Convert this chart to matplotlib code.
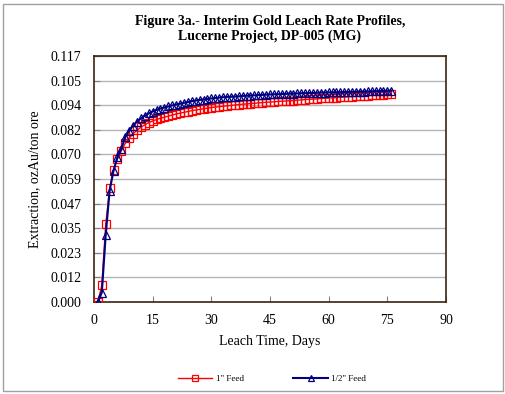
import numpy as np
import matplotlib
matplotlib.use("Agg")
import matplotlib.pyplot as plt
from matplotlib.patches import Rectangle

# Data
days = list(range(1, 77))

feed_1in = [
    0.0000, 0.0080, 0.0370, 0.0540, 0.0630, 0.0680, 0.0720, 0.0755, 0.0780, 0.0800,
    0.0817, 0.0831, 0.0843, 0.0853, 0.0861, 0.0868, 0.0874, 0.0879, 0.0884, 0.0889,
    0.0894, 0.0898, 0.0902, 0.0906, 0.0910, 0.0913, 0.0916, 0.0919, 0.0922, 0.0925,
    0.0927, 0.0929, 0.0931, 0.0933, 0.0935, 0.0937, 0.0939, 0.0941, 0.0942, 0.0944,
    0.0945, 0.0947, 0.0948, 0.0950, 0.0951, 0.0952, 0.0954, 0.0955, 0.0956, 0.0957,
    0.0958, 0.0960, 0.0961, 0.0963, 0.0964, 0.0965, 0.0966, 0.0968, 0.0969, 0.0970,
    0.0971, 0.0972, 0.0974, 0.0975, 0.0976, 0.0977, 0.0978, 0.0979, 0.0980, 0.0982,
    0.0983, 0.0984, 0.0985, 0.0986, 0.0987, 0.0988,
]

feed_half = [
    0.0000, 0.0045, 0.0320, 0.0530, 0.0625, 0.0690, 0.0730, 0.0785, 0.0815, 0.0838,
    0.0858, 0.0873, 0.0886, 0.0897, 0.0906, 0.0914, 0.0920, 0.0925, 0.0930, 0.0935,
    0.0939, 0.0943, 0.0947, 0.0951, 0.0955, 0.0958, 0.0961, 0.0963, 0.0966, 0.0968,
    0.0970, 0.0972, 0.0974, 0.0975, 0.0976, 0.0977, 0.0978, 0.0980, 0.0981, 0.0982,
    0.0983, 0.0984, 0.0985, 0.0986, 0.0987, 0.0988, 0.0988, 0.0989, 0.0990, 0.0991,
    0.0991, 0.0992, 0.0993, 0.0993, 0.0994, 0.0994, 0.0995, 0.0996, 0.0996, 0.0997,
    0.0997, 0.0998, 0.0998, 0.0999, 0.0999, 0.1000, 0.1000, 0.1001, 0.1001, 0.1002,
    0.1002, 0.1003, 0.1003, 0.1004, 0.1004, 0.1005,
]

x_ticks = [0, 15, 30, 45, 60, 75, 90]
y_ticks = [0.0, 0.0117, 0.0234, 0.0351, 0.0468, 0.0585, 0.0702, 0.0819, 0.0936, 0.1053, 0.117]
y_labels = ["0.000", "0.012", "0.023", "0.035", "0.047", "0.059",
            "0.070", "0.082", "0.094", "0.105", "0.117"]

plt.rcParams['font.family'] = ['Liberation Serif', 'DejaVu Serif']

fig = plt.figure(figsize=(5.06, 3.94), dpi=100)
W, H = 506, 394

# grey border around the whole chart
fig.patches.append(Rectangle((3 / W, 3 / H), 500 / W, 387 / H, transform=fig.transFigure,
                             fill=False, edgecolor='#a0a0a0', linewidth=1))

ax = fig.add_axes([94 / W, 1 - 302 / H, 352 / W, 246 / H])

ax.plot(days, feed_1in, color='#ff0000', linewidth=1.0, marker='s', markersize=6,
        markerfacecolor='none', markeredgecolor='#ff0000', markeredgewidth=0.9,
        label='1" Feed', zorder=3)
ax.plot(days, feed_half, color='#000080', linewidth=1.5, marker='^', markersize=5.5,
        markerfacecolor='none', markeredgecolor='#000080', markeredgewidth=0.9,
        label='1/2" Feed', zorder=4)

ax.set_xlim(0, 90)
ax.set_ylim(0, 0.117)
ax.set_xticks(x_ticks)
ax.set_yticks(y_ticks)
ax.set_yticklabels(y_labels)
ax.tick_params(axis='both', direction='in', length=4, labelsize=10, pad=9,
               color='#808080')
ax.grid(axis='y', color='#b4b4b4', linewidth=1.0)
ax.set_axisbelow(True)
for s in ax.spines.values():
    s.set_color('#3b2410')
    s.set_linewidth(1.2)

ax.set_xlabel('Leach Time, Days', fontsize=10)
ax.xaxis.set_label_coords(0.5, -0.135)
ax.set_ylabel('Extraction, ozAu/ton ore', fontsize=10)
ax.yaxis.set_label_coords(-0.15, 0.5)

fig.text(270 / W, 1 - 29 / H, 'Figure 3a.- Interim Gold Leach Rate Profiles,\nLucerne Project, DP-005 (MG)',
         ha='center', va='center', fontsize=10, fontweight='bold', linespacing=1.2)

fig.legend(loc='center', bbox_to_anchor=(272 / W, 1 - 379 / H), ncol=2, frameon=False,
           fontsize=6.5, handlelength=3.8, columnspacing=5.5, handletextpad=0.4,
           markerscale=0.7)

fig.savefig('out.png', dpi=100)
